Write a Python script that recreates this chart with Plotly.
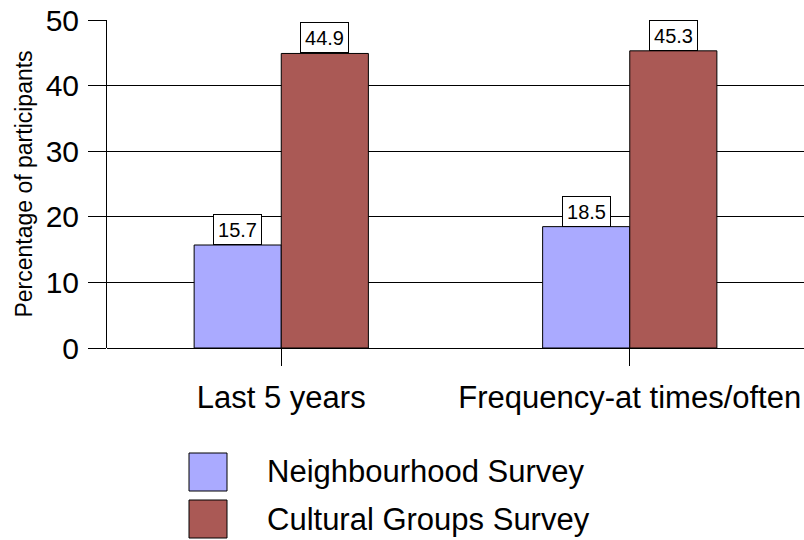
import plotly.graph_objects as go

categories = ["Last 5 years", "Frequency-at times/often"]
series_names = ["Neighbourhood Survey", "Cultural Groups Survey"]
neighbourhood = [15.7, 18.5]
cultural = [44.9, 45.3]
y_ticks = [0, 10, 20, 30, 40, 50]

colors = ["#aaaaff", "#aa5955"]
values = [neighbourhood, cultural]

W, H = 804, 540
L, R, T, B = 107, 0, 20, 192
pw, ph = W - L - R, H - T - B
FONT = "Liberation Sans, Arial, sans-serif"

fig = go.Figure()
xpos = list(range(len(categories)))
nser = len(values)
bw = 0.25
for s, (name, vals, col) in enumerate(zip(series_names, values, colors)):
    fig.add_trace(go.Bar(
        x=xpos, y=vals, name=name, marker=dict(color=col, line=dict(color="black", width=1)),
        showlegend=False,
    ))
    off = (s - (nser - 1) / 2) * bw
    for i, v in enumerate(vals):
        fig.add_annotation(
            x=i + off, y=v, xref="x", yref="y", text=f"{v:.1f}", showarrow=False,
            yanchor="bottom", xanchor="center", bgcolor="white", bordercolor="black",
            borderwidth=1, borderpad=3, width=41, height=23,
            font=dict(size=20, color="black", family=FONT),
        )

# legend drawn manually (large swatches)
def px_x(px):
    return (px - L) / pw

def px_y(py):
    return (H - B - py) / ph

leg_rows = [472, 519]
for name, col, cy in zip(series_names, colors, leg_rows):
    fig.add_shape(type="rect", xref="paper", yref="paper",
                  x0=px_x(189), x1=px_x(227), y0=px_y(cy + 19), y1=px_y(cy - 19),
                  fillcolor=col, line=dict(color="black", width=1))
    fig.add_annotation(xref="paper", yref="paper", x=px_x(265), y=px_y(cy),
                       text=name, showarrow=False, xanchor="left", yanchor="middle",
                       font=dict(size=31, color="black", family=FONT))

fig.update_layout(
    width=W, height=H, margin=dict(l=L, r=R, t=T, b=B),
    paper_bgcolor="white", plot_bgcolor="white",
    barmode="group", bargap=0.5, bargroupgap=0,
    font=dict(family=FONT, color="black"),
    showlegend=False,
)
fig.update_xaxes(
    range=[-0.5, 1.5], tickvals=xpos, ticktext=categories,
    showgrid=False, zeroline=False, showline=False,
    ticks="outside", ticklen=17, tickcolor="black", tickwidth=1,
    tickfont=dict(size=31, color="black", family=FONT), ticklabelstandoff=5,
)
fig.update_yaxes(
    range=[0, 50], tickvals=y_ticks,
    showgrid=True, gridcolor="black", gridwidth=1,
    zeroline=True, zerolinecolor="black", zerolinewidth=1,
    showline=True, linecolor="black", linewidth=1,
    ticks="outside", ticklen=18, tickcolor="black", tickwidth=1,
    tickfont=dict(size=30, color="black", family=FONT), ticklabelstandoff=3,
    title=dict(text="Percentage of participants", font=dict(size=23, color="black", family=FONT), standoff=6),
)

fig.write_html("out.html")
